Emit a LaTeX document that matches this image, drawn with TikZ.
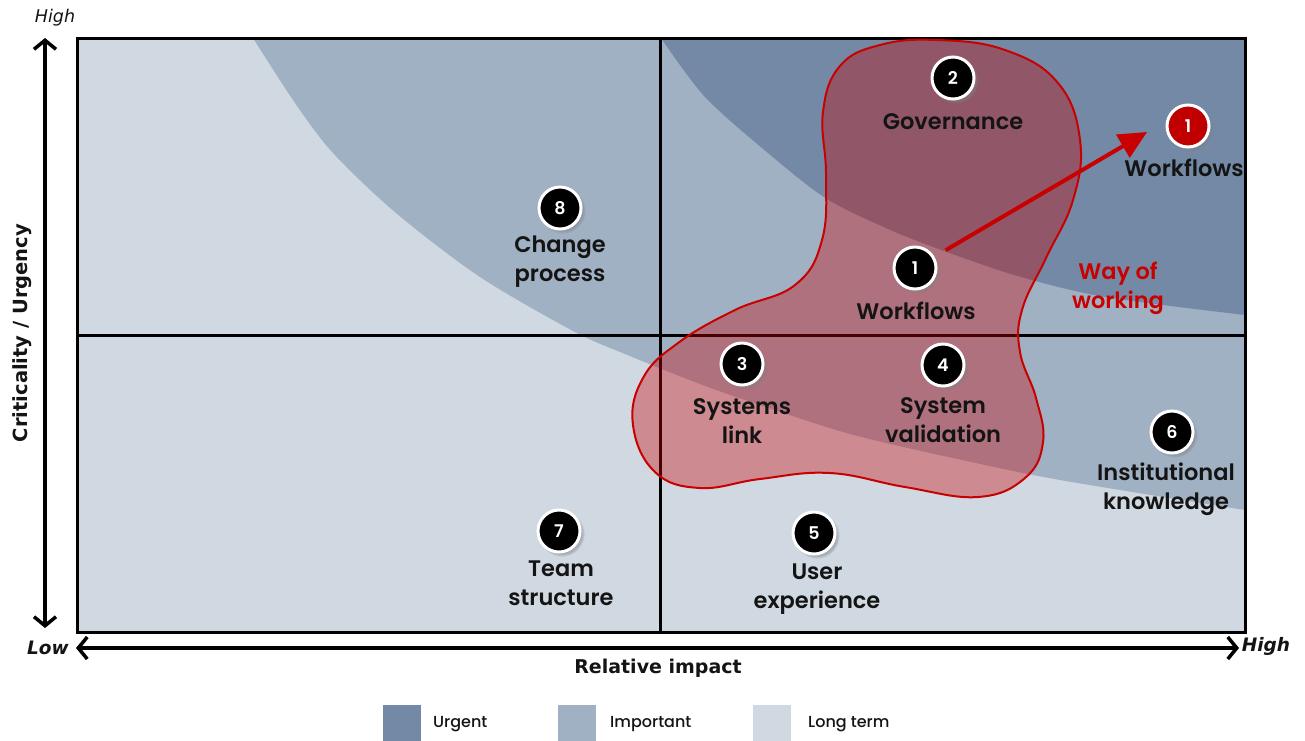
\documentclass[tikz,border=0pt]{standalone}
\usepackage{fontspec}
\setmainfont{DejaVu Sans}
\newfontfamily\lbl{Poppins SemiBold}
\newfontfamily\lgd{Poppins Medium}
\newfontfamily\numfont{Poppins SemiBold}
\usetikzlibrary{arrows.meta,shadows}

\definecolor{urgent}{RGB}{115,137,165}
\definecolor{important}{RGB}{161,177,196}
\definecolor{longterm}{RGB}{208,216,226}
\definecolor{wayred}{RGB}{200,0,0}
\definecolor{badgered}{RGB}{192,0,0}
\definecolor{ink}{RGB}{20,20,20}

\tikzset{
  badge/.style={circle, fill=black, draw=white, line width=3pt, minimum size=42pt,
    inner sep=0pt, text=white, font=\numfont\fontsize{17.5}{17}\selectfont,
    circular drop shadow={shadow xshift=2.5pt, shadow yshift=-2.5pt, shadow scale=1.1, opacity=0.5}},
  hotbadge/.style={badge, fill=badgered},
  item/.style={align=center, inner sep=0pt, font=\lbl\fontsize{22.5}{29}\selectfont, text=ink},
  framepen/.style={line width=3pt, black},
  axispen/.style={line width=3.5pt, black,
    {Straight Barb[length=9pt,width=22pt]}-{Straight Barb[length=9pt,width=22pt]}},
  legendbox/.style={inner sep=0pt, minimum width=38pt, minimum height=40pt},
  legendtext/.style={anchor=west, inner sep=0pt, font=\lgd\fontsize{16}{16}\selectfont, text=ink}
}

\begin{document}
\begin{tikzpicture}[x=1pt,y=-1pt]
\useasboundingbox (0,0) rectangle (1305,740);

% priority zones
\fill[longterm] (77,38) rectangle (1245,632);
\fill[important] plot[smooth] coordinates {(253,38) (295,103) (333,153) (396,213) (480,277)
  (573,331) (620,352) (700,384) (760,405) (850,434) (953,458) (1060,480) (1245,510)}
  -- (1245,38) -- cycle;
\fill[urgent] plot[smooth] coordinates {(661,38) (705,97) (768,153) (827,199) (895,232)
  (958,256) (1021,277) (1105,297) (1245,315)} -- (1245,38) -- cycle;

% quadrant grid and frame
\draw[framepen] (660,38) -- (660,632);
\draw[framepen] (77,335) -- (1245,335);
\draw[framepen] (77,38) rectangle (1245,632);

% way of working area
\draw[wayred, line width=2pt, fill=wayred, fill opacity=0.36]
  plot[smooth cycle, tension=0.7] coordinates {(937,40) (1005,50) (1058,83) (1080,140)
  (1073,200) (1046,258) (1022,310) (1020,352) (1036,398) (1043,442) (1025,478) (978,497)
  (905,487) (830,473) (760,479) (700,488) (655,472) (633,425) (643,378) (678,343)
  (735,310) (795,285) (822,240) (826,175) (823,112) (840,66) (880,45)};

% axes
\coordinate (ytop) at (45,38);
\coordinate (ybot) at (45,628);
\coordinate (xleft) at (76,648);
\coordinate (xright) at (1239,648);
\draw[axispen] (ytop) -- (ybot);
\draw[axispen] (xleft) -- (xright);
\node[font=\itshape\fontsize{17.5}{17}\selectfont, text=ink] (yhigh) at (55,18) {High};
\node[font=\bfseries\itshape\fontsize{18.5}{17}\selectfont, text=ink] (ylow) at (48,648) {Low};
\node[font=\bfseries\itshape\fontsize{18.5}{17}\selectfont, text=ink] (xhigh) at (1266,646) {High};
\node[font=\bfseries\fontsize{19}{19}\selectfont, text=ink] (xlabel) at (658,668) {Relative impact};
\node[font=\bfseries\fontsize{19.5}{19}\selectfont, text=ink, rotate=90] (ylabel) at (22,333) {Criticality / Urgency};

% items
\node[badge] (b2) at (953,78) {2};
\node[item] (t2) at (953,122) {Governance};
\node[hotbadge] (b1r) at (1188,126) {1};
\node[item] (t1r) at (1184,168) {Workflows};
\node[badge] (b8) at (560,208) {8};
\node[item] (t8) at (560,262) {Change\\process};
\node[badge] (b1) at (915,268) {1};
\node[item] (t1) at (916,311) {Workflows};
\node[badge] (b3) at (742,364) {3};
\node[item] (t3) at (742,421) {Systems\\link};
\node[badge] (b4) at (943,365) {4};
\node[item] (t4) at (943,420) {System\\validation};
\node[badge] (b6) at (1172,432) {6};
\node[item] (t6) at (1166,489) {Institutional\\knowledge};
\node[badge] (b7) at (559,531) {7};
\node[item] (t7) at (561,583) {Team\\structure};
\node[badge] (b5) at (814,533) {5};
\node[item] (t5) at (817,589) {User\\experience};
\node[item, text=wayred] (way) at (1118,288) {Way of\\working};

% shift of workflows
\coordinate (wtip) at (1147,132);
\draw[wayred, line width=4pt, shorten <=13pt, -{Triangle[length=28pt,width=26pt]}] (b1.30) -- (wtip);

% legend
\node[legendbox, fill=urgent] (lg1) at (402,725) {};
\node[legendtext] (lt1) at (433,724) {Urgent};
\node[legendbox, fill=important] (lg2) at (577,725) {};
\node[legendtext] (lt2) at (610,724) {Important};
\node[legendbox, fill=longterm] (lg3) at (772,725) {};
\node[legendtext] (lt3) at (808,724) {Long term};
\end{tikzpicture}
\end{document}
